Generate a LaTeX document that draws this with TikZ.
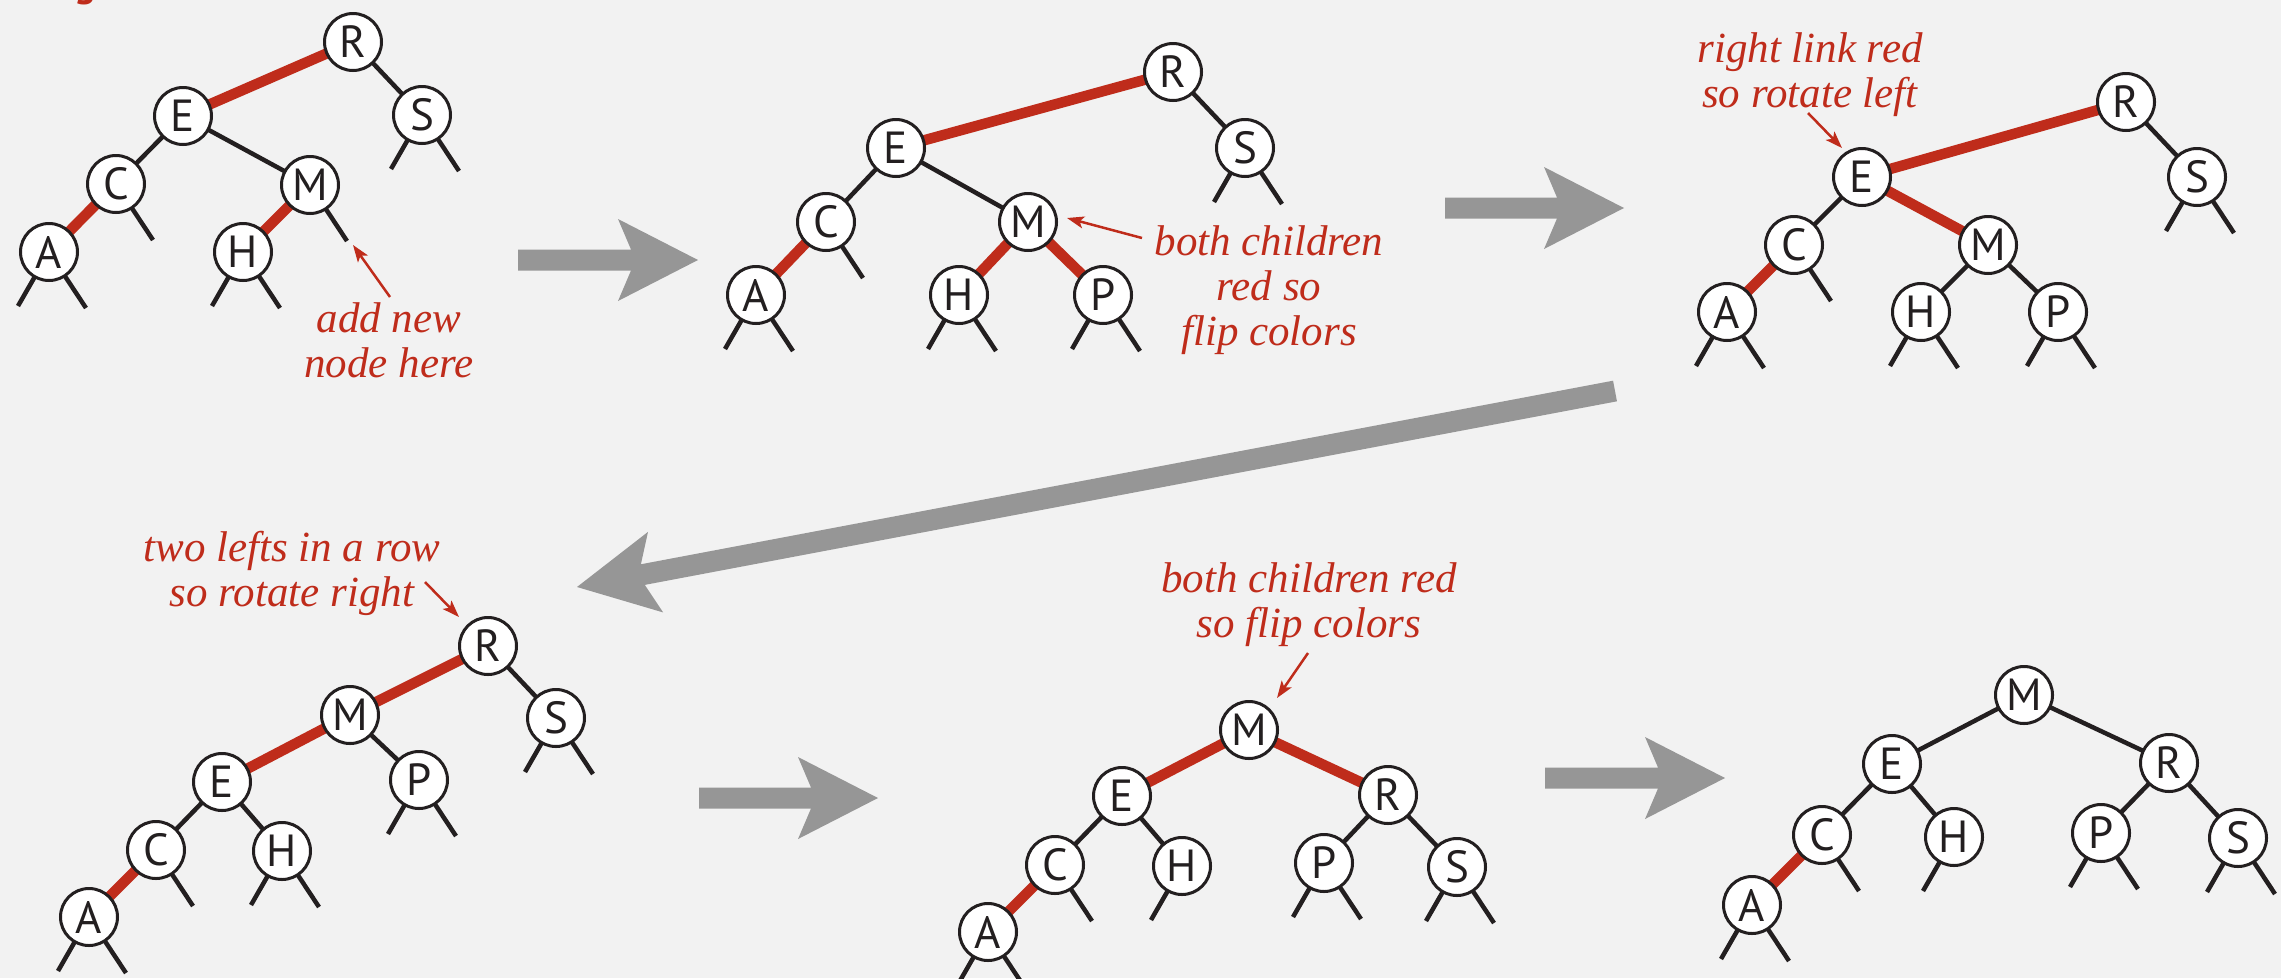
\documentclass[tikz,border=0pt]{standalone}
\usepackage{fontspec}
\setmainfont{Liberation Serif}
\newfontfamily\nodefont{PT Sans}
\usetikzlibrary{arrows.meta,calc}
\pgfdeclarelayer{bg}
\pgfsetlayers{bg,main}
\definecolor{bgcol}{RGB}{242,242,242}
\definecolor{ink}{RGB}{35,31,32}
\definecolor{rbred}{RGB}{191,44,27}
\definecolor{arrowgray}{RGB}{150,150,150}
\newcommand\nullL[1]{\draw[bk] (#1.center) -- ++(-31,54);}
\newcommand\nullR[1]{\draw[bk] (#1.center) -- ++(37,56);}
\newcommand\nullLR[1]{\nullL{#1}\nullR{#1}}
\newcommand\bigarrow[2]{%
  \coordinate (#1-b) at ($(#2)!80pt!(#1)$);
  \coordinate (#1-n) at ($(#2)!67pt!(#1)$);
  \fill[arrowgray] ($(#1)!10.5pt!90:(#2)$) -- ($(#1-n)!10.5pt!90:(#2)$) -- ($(#1-b)!41pt!90:(#2)$) -- (#2)
    -- ($(#1-b)!41pt!-90:(#2)$) -- ($(#1-n)!10.5pt!-90:(#2)$) -- ($(#1)!10.5pt!-90:(#2)$) -- cycle;}
\begin{document}
\begin{tikzpicture}[x=1pt,y=-1pt,
  nd/.style={circle,draw=ink,fill=white,line width=3pt,minimum size=57pt,inner sep=0pt,
    text=ink,font=\nodefont\fontsize{45}{45}\selectfont},
  bk/.style={draw=ink,line width=4.5pt},
  rd/.style={draw=rbred,line width=10.5pt},
  lbl/.style={text=rbred,align=center,anchor=base,inner sep=0pt,
    font=\fontsize{43}{45}\selectfont\itshape},
  note/.style={draw=rbred,line width=2.5pt,-{Stealth[length=17pt,width=12pt,inset=4pt]}}]
\begin{pgfonlayer}{bg}
\fill[bgcol] (0,0) rectangle (2281,978);
\end{pgfonlayer}
\useasboundingbox (0,0) rectangle (2281,978);

% cut-off heading fragment
\node[text=rbred,anchor=base,inner sep=0pt,font=\nodefont\bfseries\fontsize{40}{40}\selectfont] (frag) at (85,-4) {g};

% ---------- tree 1
\node[nd] (aR) at (353,42) {R};
\node[nd] (aE) at (183,116) {E};
\node[nd] (aS) at (422,115) {S};
\node[nd] (aC) at (116,184) {C};
\node[nd] (aM) at (310,185) {M};
\node[nd] (aA) at (49,252) {A};
\node[nd] (aH) at (243,252) {H};
% ---------- tree 2
\node[nd] (bR) at (1173,72) {R};
\node[nd] (bE) at (896,148) {E};
\node[nd] (bS) at (1245,148) {S};
\node[nd] (bC) at (826,222) {C};
\node[nd] (bM) at (1028,222) {M};
\node[nd] (bA) at (756,295) {A};
\node[nd] (bH) at (959,295) {H};
\node[nd] (bP) at (1103,295) {P};
% ---------- tree 3
\node[nd] (cR) at (2126,102) {R};
\node[nd] (cE) at (1862,177) {E};
\node[nd] (cS) at (2197,177) {S};
\node[nd] (cC) at (1794,245) {C};
\node[nd] (cM) at (1988,245) {M};
\node[nd] (cA) at (1727,312) {A};
\node[nd] (cH) at (1921,312) {H};
\node[nd] (cP) at (2058,312) {P};
% ---------- tree 4
\node[nd] (dR) at (488,646) {R};
\node[nd] (dM) at (350,715) {M};
\node[nd] (dS) at (556,718) {S};
\node[nd] (dE) at (222,782) {E};
\node[nd] (dP) at (419,780) {P};
\node[nd] (dC) at (156,850) {C};
\node[nd] (dH) at (282,851) {H};
\node[nd] (dA) at (89,917) {A};
% ---------- tree 5
\node[nd] (eM) at (1249,730) {M};
\node[nd] (eE) at (1122,796) {E};
\node[nd] (eR) at (1388,795) {R};
\node[nd] (eC) at (1055,865) {C};
\node[nd] (eH) at (1182,866) {H};
\node[nd] (eP) at (1324,863) {P};
\node[nd] (eS) at (1457,867) {S};
\node[nd] (eA) at (988,932) {A};
% ---------- tree 6
\node[nd] (fM) at (2024,695) {M};
\node[nd] (fE) at (1892,764) {E};
\node[nd] (fR) at (2169,763) {R};
\node[nd] (fC) at (1822,835) {C};
\node[nd] (fH) at (1954,837) {H};
\node[nd] (fP) at (2101,833) {P};
\node[nd] (fS) at (2238,838) {S};
\node[nd] (fA) at (1752,905) {A};

\begin{pgfonlayer}{bg}
% tree 1
\draw[rd] (aR.center) -- (aE.center);
\draw[bk] (aR.center) -- (aS.center);
\draw[bk] (aE.center) -- (aC.center);
\draw[bk] (aE.center) -- (aM.center);
\draw[rd] (aC.center) -- (aA.center);
\draw[rd] (aM.center) -- (aH.center);
\nullLR{aA}\nullR{aC}\nullLR{aH}\nullR{aM}\nullLR{aS}
% tree 2
\draw[rd] (bR.center) -- (bE.center);
\draw[bk] (bR.center) -- (bS.center);
\draw[bk] (bE.center) -- (bC.center);
\draw[bk] (bE.center) -- (bM.center);
\draw[rd] (bC.center) -- (bA.center);
\draw[rd] (bM.center) -- (bH.center);
\draw[rd] (bM.center) -- (bP.center);
\nullLR{bS}\nullR{bC}\nullLR{bA}\nullLR{bH}\nullLR{bP}
% tree 3
\draw[rd] (cR.center) -- (cE.center);
\draw[bk] (cR.center) -- (cS.center);
\draw[bk] (cE.center) -- (cC.center);
\draw[rd] (cE.center) -- (cM.center);
\draw[rd] (cC.center) -- (cA.center);
\draw[bk] (cM.center) -- (cH.center);
\draw[bk] (cM.center) -- (cP.center);
\nullLR{cS}\nullR{cC}\nullLR{cA}\nullLR{cH}\nullLR{cP}
% tree 4
\draw[rd] (dR.center) -- (dM.center);
\draw[bk] (dR.center) -- (dS.center);
\draw[rd] (dM.center) -- (dE.center);
\draw[bk] (dM.center) -- (dP.center);
\draw[bk] (dE.center) -- (dC.center);
\draw[bk] (dE.center) -- (dH.center);
\draw[rd] (dC.center) -- (dA.center);
\nullLR{dS}\nullLR{dP}\nullR{dC}\nullLR{dH}\nullLR{dA}
% tree 5
\draw[rd] (eM.center) -- (eE.center);
\draw[rd] (eM.center) -- (eR.center);
\draw[bk] (eE.center) -- (eC.center);
\draw[bk] (eE.center) -- (eH.center);
\draw[bk] (eR.center) -- (eP.center);
\draw[bk] (eR.center) -- (eS.center);
\draw[rd] (eC.center) -- (eA.center);
\nullR{eC}\nullL{eH}\nullLR{eP}\nullLR{eS}\nullLR{eA}
% tree 6
\draw[bk] (fM.center) -- (fE.center);
\draw[bk] (fM.center) -- (fR.center);
\draw[bk] (fE.center) -- (fC.center);
\draw[bk] (fE.center) -- (fH.center);
\draw[bk] (fR.center) -- (fP.center);
\draw[bk] (fR.center) -- (fS.center);
\draw[rd] (fC.center) -- (fA.center);
\nullR{fC}\nullL{fH}\nullLR{fP}\nullLR{fS}\nullLR{fA}
\end{pgfonlayer}

% ---------- big gray arrows
\coordinate (g1s) at (518,260);  \coordinate (g1t) at (698,260);
\coordinate (g2s) at (1445,208); \coordinate (g2t) at (1624,208);
\coordinate (g3s) at (1615,391); \coordinate (g3t) at (577,587);
\coordinate (g4s) at (699,798);  \coordinate (g4t) at (878,798);
\coordinate (g5s) at (1545,778); \coordinate (g5t) at (1725,778);
\bigarrow{g1s}{g1t}
\bigarrow{g2s}{g2t}
\bigarrow{g3s}{g3t}
\bigarrow{g4s}{g4t}
\bigarrow{g5s}{g5t}

% ---------- labels (anchor = baseline of the last line)
\node[lbl] (l1) at (389,377) {add new\\node here};
\node[lbl] (l2) at (1269,345) {both children\\red so\\flip colors};
\node[lbl] (l3) at (1810,107) {right link red\\so rotate left};
\node[lbl] (l4) at (292,606) {two lefts in a row\\so rotate right};
\node[lbl] (l5) at (1309,637) {both children red\\so flip colors};

\coordinate (n1s) at (390,297);  \coordinate (n1t) at (353,245);
\coordinate (n2s) at (1142,238); \coordinate (n2t) at (1067,218);
\coordinate (n3s) at (1808,113); \coordinate (n3t) at (1842,148);
\coordinate (n4s) at (425,582);  \coordinate (n4t) at (459,617);
\coordinate (n5s) at (1308,653); \coordinate (n5t) at (1277,698);
\draw[note] (n1s) -- (n1t);
\draw[note] (n2s) -- (n2t);
\draw[note] (n3s) -- (n3t);
\draw[note] (n4s) -- (n4t);
\draw[note] (n5s) -- (n5t);
\end{tikzpicture}
\end{document}
